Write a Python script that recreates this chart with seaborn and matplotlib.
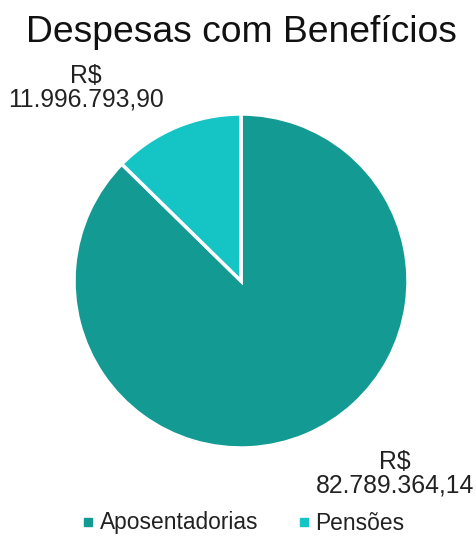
import matplotlib
matplotlib.use("Agg")
import matplotlib.pyplot as plt
from matplotlib.lines import Line2D
import seaborn as sns

categories = ["Aposentadorias", "Pensões"]
values = [82789364.14, 11996793.90]
value_labels = ["R$\n82.789.364,14", "R$\n11.996.793,90"]
colors = ["#129a93", "#15c5c5"]
title = "Despesas com Benefícios"

sns.set_theme(style="white")
plt.rcParams["font.family"] = ["Liberation Sans", "DejaVu Sans"]

W, H = 477, 537
fig = plt.figure(figsize=(W / 100, H / 100), dpi=100)
fig.patch.set_facecolor("white")

cx, cy, r = 241, 281, 167
ax = fig.add_axes([(cx - r) / W, (H - cy - r) / H, 2 * r / W, 2 * r / H])
ax.pie(values, colors=colors, startangle=90, counterclock=False,
       wedgeprops=dict(edgecolor="white", linewidth=2.5), radius=1.0)
ax.set_xlim(-1, 1)
ax.set_ylim(-1, 1)
ax.set_aspect("equal")
ax.axis("off")

fig.text(241 / W, 1 - 33 / H, title, ha="center", va="center", fontsize=26.8, color="#111111")

fig.text(395 / W, 1 - 474 / H, value_labels[0], ha="center", va="center",
         fontsize=17.8, color="#222222", linespacing=1.0)
fig.text(86 / W, 1 - 88 / H, value_labels[1], ha="center", va="center",
         fontsize=17.8, color="#222222", linespacing=1.0)

handles = [Line2D([0], [0], marker="s", linestyle="", markersize=6,
                  markerfacecolor=c, markeredgecolor=c) for c in colors]
fig.legend(handles, categories, loc="center", bbox_to_anchor=(243 / W, 1 - 523 / H),
           ncol=2, frameon=False, fontsize=16.4, handlelength=0.6, handletextpad=0.2,
           columnspacing=1.7, labelcolor="#222222")

fig.savefig("out.png", dpi=100, facecolor="white")
